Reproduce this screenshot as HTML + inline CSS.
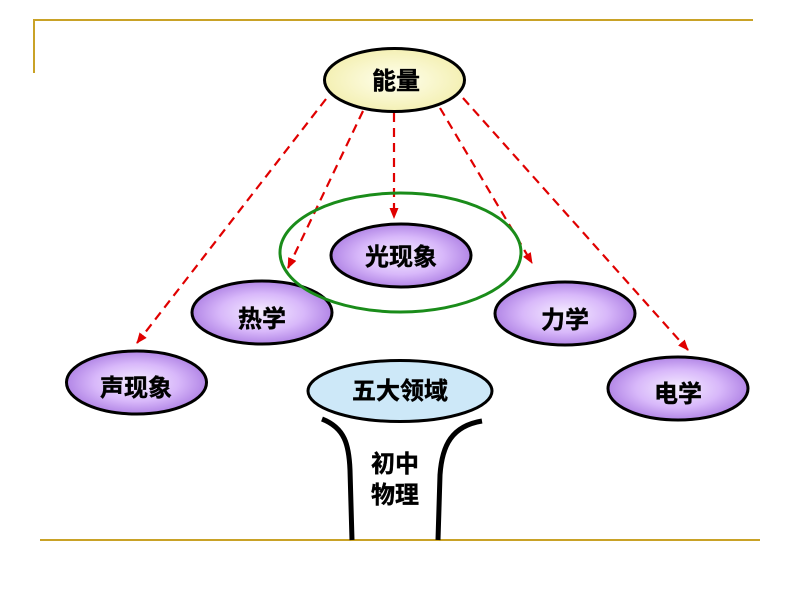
<!DOCTYPE html>
<html><head><meta charset="utf-8">
<style>
html,body{margin:0;padding:0;background:#fff;}
svg{display:block;}
text{font-family:"Liberation Sans","Noto Sans CJK SC","WenQuanYi Zen Hei",sans-serif;font-weight:bold;font-size:24px;fill:#000;stroke:#000;stroke-width:0.4px;}
</style></head>
<body>
<svg width="800" height="600" viewBox="0 0 800 600" xmlns="http://www.w3.org/2000/svg">
<defs>
<radialGradient id="pur" cx="50%" cy="50%" r="50%">
<stop offset="0" stop-color="#f6eeff"/>
<stop offset="0.6" stop-color="#d8b8fa"/>
<stop offset="1" stop-color="#b286e6"/>
</radialGradient>
<radialGradient id="yel" cx="50%" cy="50%" r="50%">
<stop offset="0" stop-color="#ffffee"/>
<stop offset="1" stop-color="#f4f0b4"/>
</radialGradient>
<marker id="ar" markerWidth="12" markerHeight="12" refX="10" refY="6" orient="auto" markerUnits="userSpaceOnUse">
<path d="M0,1.5 L11,6 L0,10.5 Z" fill="#e00000"/>
</marker>
</defs>
<!-- frame lines -->
<line x1="34" y1="20" x2="753" y2="20" stroke="#c9a227" stroke-width="2"/>
<line x1="34" y1="19" x2="34" y2="73" stroke="#c9a227" stroke-width="2"/>
<line x1="40" y1="540" x2="760" y2="540" stroke="#c9a227" stroke-width="2"/>

<!-- dashed arrows -->
<g stroke="#e00000" stroke-width="2.2" stroke-dasharray="9,6" fill="none" marker-end="url(#ar)">
<line x1="326" y1="99" x2="137" y2="343"/>
<line x1="363" y1="111" x2="288" y2="268"/>
<line x1="394" y1="113" x2="394" y2="218"/>
<line x1="440" y1="108" x2="532" y2="263"/>
<line x1="463" y1="98" x2="688" y2="350"/>
</g>

<!-- top node -->
<ellipse cx="394.5" cy="80" rx="70" ry="31.5" fill="url(#yel)" stroke="#000" stroke-width="3"/>
<text x="396" y="89" text-anchor="middle">能量</text>

<!-- purple nodes -->
<ellipse cx="401" cy="255.5" rx="70" ry="31.5" fill="url(#pur)" stroke="#000" stroke-width="3"/>
<text x="401" y="265" text-anchor="middle">光现象</text>

<ellipse cx="262" cy="312.5" rx="70" ry="31.5" fill="url(#pur)" stroke="#000" stroke-width="3"/>
<text x="262" y="327" text-anchor="middle">热学</text>

<ellipse cx="565" cy="313.5" rx="70" ry="31.5" fill="url(#pur)" stroke="#000" stroke-width="3"/>
<text x="565" y="328" text-anchor="middle">力学</text>

<ellipse cx="136.5" cy="382.5" rx="70" ry="31.5" fill="url(#pur)" stroke="#000" stroke-width="3"/>
<text x="136" y="396" text-anchor="middle">声现象</text>

<ellipse cx="678" cy="388.5" rx="70" ry="31.5" fill="url(#pur)" stroke="#000" stroke-width="3"/>
<text x="678" y="402" text-anchor="middle">电学</text>

<!-- green ellipse -->
<ellipse cx="400.5" cy="252.5" rx="120.5" ry="59.5" fill="none" stroke="#1a8c1a" stroke-width="3"/>

<!-- funnel -->
<path d="M322,419 C345,428 349,445 350,470 L352,540" fill="none" stroke="#000" stroke-width="5"/>
<path d="M482,421 C452,426 442,445 440,475 L438,540" fill="none" stroke="#000" stroke-width="5"/>

<ellipse cx="400" cy="391" rx="92" ry="30.5" fill="#cde8f8" stroke="#000" stroke-width="3"/>
<text x="400" y="399" text-anchor="middle">五大领域</text>

<text x="395" y="472" text-anchor="middle">初中</text>
<text x="395" y="503" text-anchor="middle">物理</text>
</svg>
</body></html>
